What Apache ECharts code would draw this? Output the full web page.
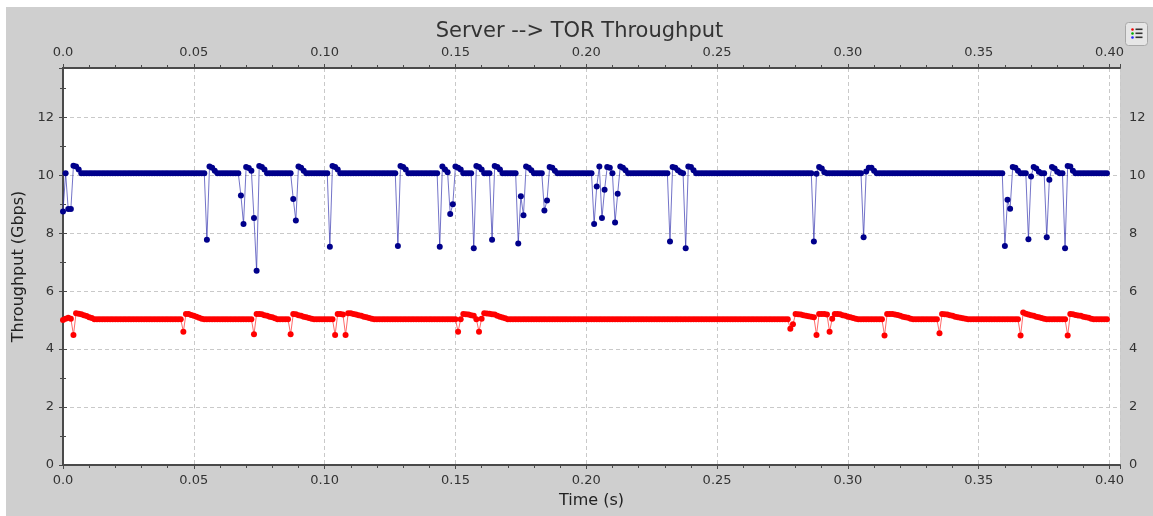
<!DOCTYPE html>
<html>
<head>
<meta charset="utf-8">
<title>Server --> TOR Throughput</title>
<script src="https://cdn.jsdelivr.net/npm/echarts@6/dist/echarts.min.js"></script>
<style>
  html, body { margin: 0; padding: 0; background: #fff; }
  #chart { position: absolute; left: 6px; top: 7px; width: 1147px; height: 509px; background: #cfcfcf; }
</style>
</head>
<body>
<div id="chart"></div>
<script>
// one sample every millisecond, starting at t = 0
const SAMPLE_STEP = 0.001;

// Server -> TOR throughput (Gbps), flow 1 (blue)
const blueGbps = [
  8.75, 10.07, 8.83, 8.83, 10.33, 10.3, 10.2, 10.07, 10.07, 10.07, 10.07, 10.07, 10.07, 10.07, 10.07, 10.07, 10.07, 10.07, 10.07, 10.07,
  10.07, 10.07, 10.07, 10.07, 10.07, 10.07, 10.07, 10.07, 10.07, 10.07, 10.07, 10.07, 10.07, 10.07, 10.07, 10.07, 10.07, 10.07, 10.07, 10.07,
  10.07, 10.07, 10.07, 10.07, 10.07, 10.07, 10.07, 10.07, 10.07, 10.07, 10.07, 10.07, 10.07, 10.07, 10.07, 7.77, 10.3, 10.26, 10.15, 10.07,
  10.07, 10.07, 10.07, 10.07, 10.07, 10.07, 10.07, 10.07, 9.3, 8.32, 10.28, 10.25, 10.15, 8.52, 6.7, 10.32, 10.28, 10.2, 10.07, 10.07,
  10.07, 10.07, 10.07, 10.07, 10.07, 10.07, 10.07, 10.07, 9.18, 8.44, 10.3, 10.26, 10.15, 10.07, 10.07, 10.07, 10.07, 10.07, 10.07, 10.07,
  10.07, 10.07, 7.53, 10.32, 10.28, 10.2, 10.07, 10.07, 10.07, 10.07, 10.07, 10.07, 10.07, 10.07, 10.07, 10.07, 10.07, 10.07, 10.07, 10.07,
  10.07, 10.07, 10.07, 10.07, 10.07, 10.07, 10.07, 10.07, 7.56, 10.32, 10.28, 10.2, 10.07, 10.07, 10.07, 10.07, 10.07, 10.07, 10.07, 10.07,
  10.07, 10.07, 10.07, 10.07, 7.53, 10.3, 10.2, 10.1, 8.66, 9.0, 10.3, 10.26, 10.2, 10.07, 10.07, 10.07, 10.07, 7.48, 10.32, 10.28,
  10.2, 10.07, 10.07, 10.07, 7.77, 10.32, 10.28, 10.2, 10.07, 10.07, 10.07, 10.07, 10.07, 10.07, 7.64, 9.27, 8.62, 10.3, 10.26, 10.17,
  10.07, 10.07, 10.07, 10.07, 8.78, 9.13, 10.28, 10.26, 10.15, 10.07, 10.07, 10.07, 10.07, 10.07, 10.07, 10.07, 10.07, 10.07, 10.07, 10.07,
  10.07, 10.07, 10.07, 8.32, 9.61, 10.3, 8.52, 9.5, 10.28, 10.26, 10.07, 8.37, 9.36, 10.3, 10.26, 10.17, 10.07, 10.07, 10.07, 10.07,
  10.07, 10.07, 10.07, 10.07, 10.07, 10.07, 10.07, 10.07, 10.07, 10.07, 10.07, 10.07, 7.71, 10.28, 10.26, 10.17, 10.1, 10.07, 7.48, 10.3,
  10.28, 10.17, 10.07, 10.07, 10.07, 10.07, 10.07, 10.07, 10.07, 10.07, 10.07, 10.07, 10.07, 10.07, 10.07, 10.07, 10.07, 10.07, 10.07, 10.07,
  10.07, 10.07, 10.07, 10.07, 10.07, 10.07, 10.07, 10.07, 10.07, 10.07, 10.07, 10.07, 10.07, 10.07, 10.07, 10.07, 10.07, 10.07, 10.07, 10.07,
  10.07, 10.07, 10.07, 10.07, 10.07, 10.07, 10.07, 7.71, 10.05, 10.28, 10.23, 10.1, 10.07, 10.07, 10.07, 10.07, 10.07, 10.07, 10.07, 10.07,
  10.07, 10.07, 10.07, 10.07, 10.07, 10.07, 7.86, 10.13, 10.26, 10.26, 10.15, 10.07, 10.07, 10.07, 10.07, 10.07, 10.07, 10.07, 10.07, 10.07,
  10.07, 10.07, 10.07, 10.07, 10.07, 10.07, 10.07, 10.07, 10.07, 10.07, 10.07, 10.07, 10.07, 10.07, 10.07, 10.07, 10.07, 10.07, 10.07, 10.07,
  10.07, 10.07, 10.07, 10.07, 10.07, 10.07, 10.07, 10.07, 10.07, 10.07, 10.07, 10.07, 10.07, 10.07, 10.07, 10.07, 10.07, 10.07, 10.07, 10.07,
  7.56, 9.15, 8.84, 10.28, 10.26, 10.15, 10.07, 10.07, 10.07, 7.79, 9.96, 10.28, 10.23, 10.12, 10.07, 10.07, 7.86, 9.84, 10.28, 10.23,
  10.12, 10.07, 10.07, 7.48, 10.32, 10.3, 10.15, 10.07, 10.07, 10.07, 10.07, 10.07, 10.07, 10.07, 10.07, 10.07, 10.07, 10.07, 10.07, 10.07
];

// Server -> TOR throughput (Gbps), flow 2 (red)
const redGbps = [
  5.0, 5.05, 5.08, 5.05, 4.49, 5.24, 5.22, 5.2, 5.17, 5.14, 5.1, 5.07, 5.03, 5.03, 5.03, 5.03, 5.03, 5.03, 5.03, 5.03,
  5.03, 5.03, 5.03, 5.03, 5.03, 5.03, 5.03, 5.03, 5.03, 5.03, 5.03, 5.03, 5.03, 5.03, 5.03, 5.03, 5.03, 5.03, 5.03, 5.03,
  5.03, 5.03, 5.03, 5.03, 5.03, 5.03, 4.6, 5.21, 5.21, 5.18, 5.15, 5.12, 5.08, 5.05, 5.03, 5.03, 5.03, 5.03, 5.03, 5.03,
  5.03, 5.03, 5.03, 5.03, 5.03, 5.03, 5.03, 5.03, 5.03, 5.03, 5.03, 5.03, 5.03, 4.51, 5.21, 5.21, 5.2, 5.17, 5.15, 5.12,
  5.1, 5.06, 5.03, 5.03, 5.03, 5.03, 5.03, 4.51, 5.21, 5.2, 5.17, 5.15, 5.12, 5.1, 5.07, 5.05, 5.03, 5.03, 5.03, 5.03,
  5.03, 5.03, 5.03, 5.03, 4.49, 5.21, 5.21, 5.19, 4.49, 5.24, 5.24, 5.21, 5.19, 5.17, 5.15, 5.12, 5.1, 5.07, 5.05, 5.03,
  5.03, 5.03, 5.03, 5.03, 5.03, 5.03, 5.03, 5.03, 5.03, 5.03, 5.03, 5.03, 5.03, 5.03, 5.03, 5.03, 5.03, 5.03, 5.03, 5.03,
  5.03, 5.03, 5.03, 5.03, 5.03, 5.03, 5.03, 5.03, 5.03, 5.03, 5.03, 4.6, 5.03, 5.21, 5.2, 5.19, 5.17, 5.15, 5.03, 4.6,
  5.05, 5.24, 5.23, 5.22, 5.2, 5.19, 5.15, 5.12, 5.09, 5.06, 5.03, 5.03, 5.03, 5.03, 5.03, 5.03, 5.03, 5.03, 5.03, 5.03,
  5.03, 5.03, 5.03, 5.03, 5.03, 5.03, 5.03, 5.03, 5.03, 5.03, 5.03, 5.03, 5.03, 5.03, 5.03, 5.03, 5.03, 5.03, 5.03, 5.03,
  5.03, 5.03, 5.03, 5.03, 5.03, 5.03, 5.03, 5.03, 5.03, 5.03, 5.03, 5.03, 5.03, 5.03, 5.03, 5.03, 5.03, 5.03, 5.03, 5.03,
  5.03, 5.03, 5.03, 5.03, 5.03, 5.03, 5.03, 5.03, 5.03, 5.03, 5.03, 5.03, 5.03, 5.03, 5.03, 5.03, 5.03, 5.03, 5.03, 5.03,
  5.03, 5.03, 5.03, 5.03, 5.03, 5.03, 5.03, 5.03, 5.03, 5.03, 5.03, 5.03, 5.03, 5.03, 5.03, 5.03, 5.03, 5.03, 5.03, 5.03,
  5.03, 5.03, 5.03, 5.03, 5.03, 5.03, 5.03, 5.03, 5.03, 5.03, 5.03, 5.03, 5.03, 5.03, 5.03, 5.03, 5.03, 5.03, 4.7, 4.86,
  5.21, 5.2, 5.19, 5.17, 5.15, 5.13, 5.12, 5.1, 4.49, 5.21, 5.21, 5.21, 5.19, 4.6, 5.05, 5.21, 5.21, 5.2, 5.17, 5.15,
  5.12, 5.1, 5.07, 5.05, 5.03, 5.03, 5.03, 5.03, 5.03, 5.03, 5.03, 5.03, 5.03, 5.03, 4.47, 5.21, 5.21, 5.21, 5.19, 5.18,
  5.15, 5.12, 5.1, 5.08, 5.05, 5.03, 5.03, 5.03, 5.03, 5.03, 5.03, 5.03, 5.03, 5.03, 5.03, 4.55, 5.21, 5.2, 5.19, 5.17,
  5.15, 5.12, 5.1, 5.08, 5.06, 5.05, 5.03, 5.03, 5.03, 5.03, 5.03, 5.03, 5.03, 5.03, 5.03, 5.03, 5.03, 5.03, 5.03, 5.03,
  5.03, 5.03, 5.03, 5.03, 5.03, 5.03, 4.47, 5.26, 5.22, 5.19, 5.17, 5.15, 5.12, 5.1, 5.07, 5.05, 5.03, 5.03, 5.03, 5.03,
  5.03, 5.03, 5.03, 5.03, 4.47, 5.21, 5.2, 5.18, 5.16, 5.15, 5.12, 5.1, 5.08, 5.05, 5.03, 5.03, 5.03, 5.03, 5.03, 5.03
];

const X_MIN = 0, X_MAX = 0.404, X_STEP = 0.05;
const Y_MIN = 0, Y_MAX = 13.7, Y_STEP = 2;

const FONT = 'DejaVu Sans';
const AXIS_COLOR = '#4a4a4a';
const LABEL_COLOR = '#333';

function toPairs(values) {
  return values.map((v, i) => [i * SAMPLE_STEP, v]);
}

function xLabel(v) {
  return v === 0 ? '0.0' : v.toFixed(2);
}

function xAxis(pos, withSplit) {
  return {
    type: 'value',
    position: pos,
    min: X_MIN, max: X_MAX, interval: X_STEP,
    axisLine: { show: true, onZero: false, lineStyle: { color: AXIS_COLOR, width: 2 } },
    axisTick: { show: true, length: 4, lineStyle: { color: AXIS_COLOR } },
    minorTick: { show: true, splitNumber: 5, length: 3, lineStyle: { color: AXIS_COLOR } },
    axisLabel: { color: LABEL_COLOR, fontFamily: FONT, fontSize: 13, margin: 9,
      formatter: xLabel, showMaxLabel: false },
    splitLine: { show: withSplit, lineStyle: { color: '#c9c9c9', type: [4, 3] } },
    name: pos === 'bottom' ? 'Time (s)' : '',
    nameLocation: 'middle', nameGap: 28,
    nameTextStyle: { color: '#222', fontFamily: FONT, fontSize: 16 }
  };
}

function yAxis(pos, withSplit) {
  return {
    type: 'value',
    position: pos,
    min: Y_MIN, max: Y_MAX, interval: Y_STEP,
    axisLine: { show: true, lineStyle: { color: AXIS_COLOR, width: 2 } },
    axisTick: { show: true, length: 4, lineStyle: { color: AXIS_COLOR } },
    minorTick: { show: true, splitNumber: 2, length: 3, lineStyle: { color: AXIS_COLOR } },
    axisLabel: { color: LABEL_COLOR, fontFamily: FONT, fontSize: 13, margin: 9, showMaxLabel: false },
    splitLine: { show: withSplit, lineStyle: { color: '#c9c9c9', type: [4, 3] } },
    name: pos === 'left' ? 'Throughput (Gbps)' : '',
    nameLocation: 'middle', nameGap: 36, nameRotate: 90,
    nameTextStyle: { color: '#222', fontFamily: FONT, fontSize: 16 }
  };
}

function lineSeries(name, values, dot, line) {
  return {
    name: name,
    type: 'line',
    data: toPairs(values),
    symbol: 'circle',
    symbolSize: 6,
    showAllSymbol: true,
    itemStyle: { color: dot },
    lineStyle: { color: line, width: 1 },
    emphasis: { disabled: true }
  };
}

const chart = echarts.init(document.getElementById('chart'), null, { renderer: 'canvas' });

chart.setOption({
  animation: false,
  backgroundColor: '#cfcfcf',
  title: {
    text: 'Server --> TOR Throughput',
    left: 'center', top: 9,
    textStyle: { color: '#333', fontFamily: FONT, fontSize: 21, fontWeight: 'normal' }
  },
  grid: {
    left: 57, top: 61, right: 33, bottom: 51,
    containLabel: false, outerBoundsMode: 'none',
    show: true, backgroundColor: '#fff', borderWidth: 0
  },
  xAxis: [xAxis('bottom', true), xAxis('top', false)],
  yAxis: [yAxis('left', true), yAxis('right', false)],
  series: [
    lineSeries('Flow 1', blueGbps, '#00008b', 'rgba(40,40,170,0.65)'),
    lineSeries('Flow 2', redGbps, '#ff0000', 'rgba(255,40,40,0.7)')
  ],
  // legend toggle button in the corner
  graphic: [{
    type: 'group', left: 1119, top: 15,
    children: [
      { type: 'rect', shape: { x: 0, y: 0, width: 22, height: 23, r: 3 },
        style: { fill: '#e6e6e6', stroke: '#a8a8a8', lineWidth: 1 } },
      { type: 'circle', shape: { cx: 7, cy: 7, r: 1.3 }, style: { fill: '#e00' } },
      { type: 'circle', shape: { cx: 7, cy: 11, r: 1.3 }, style: { fill: '#0a0' } },
      { type: 'circle', shape: { cx: 7, cy: 15, r: 1.3 }, style: { fill: '#22f' } },
      { type: 'rect', shape: { x: 10, y: 6, width: 7, height: 1.6 }, style: { fill: '#333' } },
      { type: 'rect', shape: { x: 10, y: 10, width: 7, height: 1.6 }, style: { fill: '#333' } },
      { type: 'rect', shape: { x: 10, y: 14, width: 7, height: 1.6 }, style: { fill: '#333' } }
    ]
  }]
});
</script>
</body>
</html>
